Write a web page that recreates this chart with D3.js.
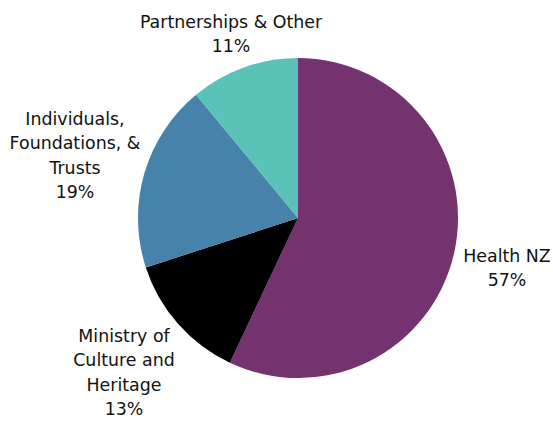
<!DOCTYPE html>
<html><head><meta charset="utf-8">
<script src="https://cdn.jsdelivr.net/npm/d3@7"></script>
<style>body{margin:0;background:#fff}svg{display:block}</style>
</head><body>
<svg id="chart" width="553" height="424"></svg>
<script>
const categories = ["Health NZ", "Ministry of Culture and Heritage", "Individuals, Foundations, & Trusts", "Partnerships & Other"];
const values = [57, 13, 19, 11];
const colors = ["#74326F", "#000000", "#4682A9", "#5BC2B8"];
const labelLines = [["Health NZ"], ["Ministry of", "Culture and", "Heritage"], ["Individuals,", "Foundations, &", "Trusts"], ["Partnerships & Other"]];

const svg = d3.select("#chart");
const cx = 298, cy = 218, r = 160;
const g = svg.append("g").attr("transform", `translate(${cx},${cy})`);
const pie = d3.pie().sort(null).value(d => d.v);
const data = categories.map((c, i) => ({c, v: values[i], i}));
const arcs = pie(data);
const arc = d3.arc().innerRadius(0).outerRadius(r);
g.selectAll("path").data(arcs).join("path")
  .attr("d", arc).attr("fill", d => colors[d.data.i]);

const labelPos = [[507, 262], [124, 342], [75, 125], [231, 28]];
const lh = 24.3;
arcs.forEach((a) => {
  const i = a.data.i;
  const lines = labelLines[i].concat([values[i] + "%"]);
  const t = svg.append("text")
    .attr("text-anchor", "middle")
    .attr("font-family", "DejaVu Sans, sans-serif")
    .attr("font-size", 17.4).attr("fill", "#111");
  lines.forEach((ln, j) => {
    t.append("tspan").attr("x", labelPos[i][0]).attr("y", labelPos[i][1] + j * lh).text(ln);
  });
});
</script>
</body></html>
